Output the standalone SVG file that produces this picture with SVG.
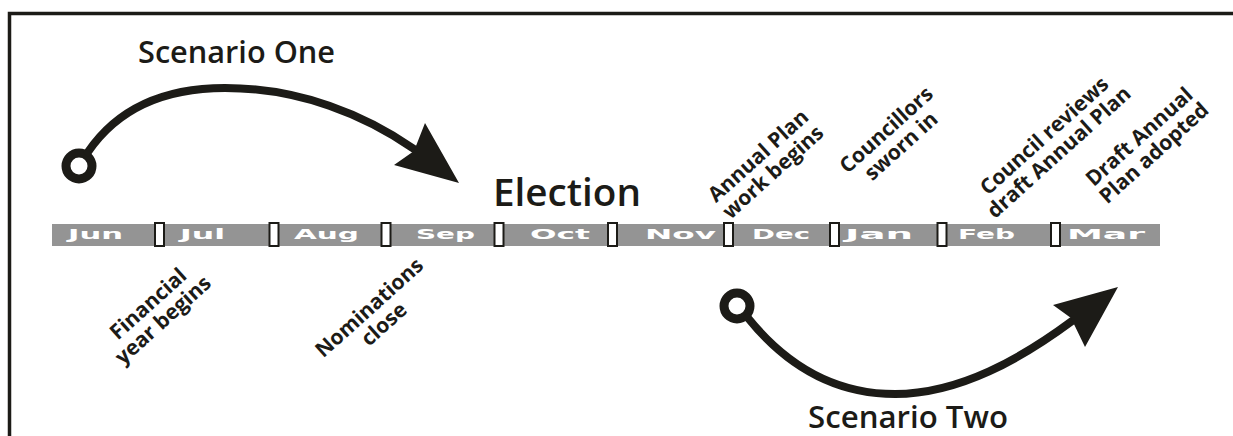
<svg xmlns="http://www.w3.org/2000/svg" width="1233" height="436" viewBox="0 0 1233 436">
<style>
.ink{fill:#1c1b17}
.curve{fill:none;stroke:#1c1b17;stroke-width:8;stroke-linecap:round}
.ring{fill:#fff;stroke:#1c1b17;stroke-width:9}
.sep{fill:#fff;stroke:#1c1b17;stroke-width:2}
.mon{font-family:"DejaVu Sans",sans-serif;font-weight:bold;font-size:14px;fill:#fff}
.lbl{font-family:"Open Sans","Liberation Sans",sans-serif;font-weight:700;font-size:21px;fill:#1c1b17;text-anchor:middle}
.big{font-family:"Open Sans","Liberation Sans",sans-serif;font-weight:600;fill:#1c1b17}
</style>
<rect width="1233" height="436" fill="#fff"/>
<path d="M9.5,436 V13.5 H1233" fill="none" stroke="#1c1b17" stroke-width="3.5"/>

<g id="timeline">
<rect x="52" y="224" width="1108" height="22" fill="#949494"/>
<rect class="sep" x="155" y="223" width="9" height="23"/>
<rect class="sep" x="269.5" y="223" width="9" height="23"/>
<rect class="sep" x="381.5" y="223" width="9" height="23"/>
<rect class="sep" x="494.5" y="223" width="9" height="23"/>
<rect class="sep" x="608" y="223" width="9" height="23"/>
<rect class="sep" x="724" y="223" width="9" height="23"/>
<rect class="sep" x="830" y="223" width="9" height="23"/>
<rect class="sep" x="937.5" y="223" width="9" height="23"/>
<rect class="sep" x="1051" y="223" width="9" height="23"/>
<text class="mon" x="68" y="238.5" textLength="55" lengthAdjust="spacingAndGlyphs">Jun</text>
<text class="mon" x="180" y="238.5" textLength="45" lengthAdjust="spacingAndGlyphs">Jul</text>
<text class="mon" x="294" y="238.5" textLength="65" lengthAdjust="spacingAndGlyphs">Aug</text>
<text class="mon" x="416" y="238.5" textLength="59" lengthAdjust="spacingAndGlyphs">Sep</text>
<text class="mon" x="530" y="238.5" textLength="60" lengthAdjust="spacingAndGlyphs">Oct</text>
<text class="mon" x="645" y="238.5" textLength="71" lengthAdjust="spacingAndGlyphs">Nov</text>
<text class="mon" x="752" y="238.5" textLength="58" lengthAdjust="spacingAndGlyphs">Dec</text>
<text class="mon" x="845" y="238.5" textLength="68" lengthAdjust="spacingAndGlyphs">Jan</text>
<text class="mon" x="958" y="238.5" textLength="57" lengthAdjust="spacingAndGlyphs">Feb</text>
<text class="mon" x="1067" y="238.5" textLength="78" lengthAdjust="spacingAndGlyphs">Mar</text>
</g>

<g id="election"><text class="big" x="493" y="206" font-size="37" font-weight="500" textLength="148" lengthAdjust="spacingAndGlyphs">Election</text></g>

<g id="scenario-one">
<text class="big" x="138" y="63" font-size="30" textLength="197" lengthAdjust="spacingAndGlyphs">Scenario One</text>
<circle class="ring" cx="79" cy="166" r="13"/>
</g>
<g id="scenario-two">
<text class="big" x="808" y="428" font-size="30" textLength="200" lengthAdjust="spacingAndGlyphs">Scenario Two</text>
<circle class="ring" cx="737" cy="306" r="13"/>
</g>

<g id="connectors">
<path class="curve" d="M88,152 C120,105 170,88 225,88 C300,88 365,115 414,149"/>
<polygon class="ink" points="425,123 459,183 394,165 414,151"/>
<path class="curve" d="M748,318 C790,370 840,394 895,394 C960,394 1022,358 1072,321"/>
<polygon class="ink" points="1118,287 1085,347 1071,318 1053,305"/>
</g>

<g id="label-financial" transform="translate(153,309) rotate(-42)"><text class="lbl"><tspan x="0" y="0">Financial</tspan><tspan x="0" y="22">year begins</tspan></text></g>
<g id="label-nominations" transform="translate(374,313) rotate(-42)"><text class="lbl"><tspan x="0" y="0">Nominations</tspan><tspan x="0" y="22">close</tspan></text></g>
<g id="label-annual" transform="translate(763,161) rotate(-42)"><text class="lbl"><tspan x="0" y="0">Annual Plan</tspan><tspan x="0" y="22">work begins</tspan></text></g>
<g id="label-councillors" transform="translate(891,135) rotate(-42)"><text class="lbl"><tspan x="0" y="0">Councillors</tspan><tspan x="0" y="22">sworn in</tspan></text></g>
<g id="label-reviews" transform="translate(1049,141) rotate(-42)"><text class="lbl"><tspan x="0" y="0">Council reviews</tspan><tspan x="0" y="22">draft Annual Plan</tspan></text></g>
<g id="label-adopted" transform="translate(1144,142) rotate(-42)"><text class="lbl"><tspan x="0" y="0">Draft Annual</tspan><tspan x="0" y="22">Plan adopted</tspan></text></g>
</svg>
